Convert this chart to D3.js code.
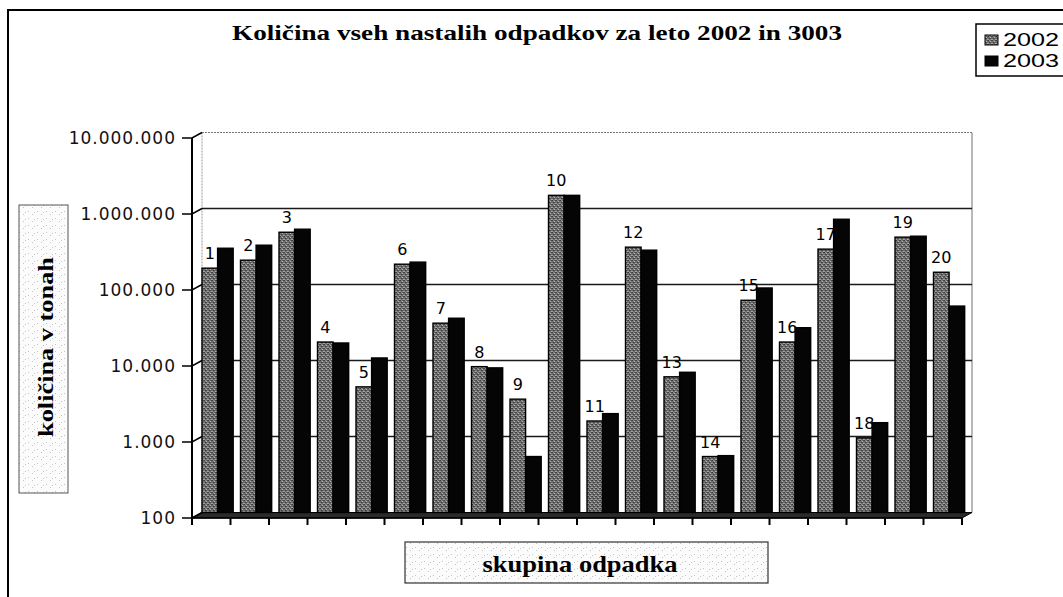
<!DOCTYPE html>
<html>
<head>
<meta charset="utf-8">
<script src="https://cdn.jsdelivr.net/npm/d3@7"></script>
<style>
  html, body { margin: 0; padding: 0; background: #fff; }
  svg { display: block; }
</style>
</head>
<body>
<svg id="chart" width="1063" height="597"></svg>
<script>
const title = "Količina vseh nastalih odpadkov za leto 2002 in 3003";
const yTitle = "količina v tonah";
const xTitle = "skupina odpadka";
const categories = ["1","2","3","4","5","6","7","8","9","10","11","12","13","14","15","16","17","18","19","20"];
const seriesNames = ["2002", "2003"];
const values2002 = [164000, 209000, 487000, 17500, 4500, 185000, 31000, 8300, 3100, 1490000, 1600, 310000, 6100, 545, 62000, 17500, 292000, 960, 420000, 145000];
const values2003 = [300000, 329000, 534000, 17000, 10800, 197000, 36000, 8000, 545, 1490000, 2000, 283000, 7000, 560, 90000, 27000, 722000, 1520, 432000, 52000];
const yTicks = [100, 1000, 10000, 100000, 1000000, 10000000];
const yTickLabels = ["100", "1.000", "10.000", "100.000", "1.000.000", "10.000.000"];

const svg = d3.select("#chart");
const defs = svg.append("defs");

// stipple pattern for 2002 bars
const pat = defs.append("pattern").attr("id", "stip").attr("width", 4).attr("height", 4)
  .attr("patternUnits", "userSpaceOnUse");
pat.append("rect").attr("width", 4).attr("height", 4).attr("fill", "#6e6e6e");
[[0,0,"#3a3a3a"],[2,1,"#b4b4b4"],[1,2,"#404040"],[3,3,"#a8a8a8"],[3,0,"#4a4a4a"],[0,3,"#9c9c9c"],[2,2,"#505050"],[1,0,"#8e8e8e"]].forEach(([px,py,c]) =>
  pat.append("rect").attr("x", px).attr("y", py).attr("width", 1).attr("height", 1).attr("fill", c));

// speckle pattern for title boxes
const sp = defs.append("pattern").attr("id", "speck").attr("width", 9).attr("height", 7)
  .attr("patternUnits", "userSpaceOnUse");
sp.append("rect").attr("width", 9).attr("height", 7).attr("fill", "#fbfbfb");
[[1,1],[5,4],[7,2]].forEach(([px,py]) =>
  sp.append("rect").attr("x", px).attr("y", py).attr("width", 1).attr("height", 1).attr("fill", "#c4c4c4"));

// outer chart border
svg.append("rect").attr("x", 8).attr("y", 10).attr("width", 1070).attr("height", 600)
  .attr("fill", "none").attr("stroke", "#000").attr("stroke-width", 2);

// geometry
const pLeft = 192, pRight = 962, pTop = 138, pBottom = 518;
const dx = 10, dy = -5.5;
const x = d3.scaleBand().domain(categories).range([pLeft, pRight]).padding(0);
const y = d3.scaleLog().domain([100, 1e7]).range([pBottom, pTop]);
const yb = v => y(v) + dy;

// back wall
const g = svg.append("g");
g.append("line").attr("x1", pLeft + dx).attr("x2", pRight + dx).attr("y1", yb(1e7)).attr("y2", yb(1e7))
  .attr("stroke", "#777").attr("stroke-width", 1).attr("stroke-dasharray", "2,1");
g.append("line").attr("x1", pRight + dx).attr("x2", pRight + dx).attr("y1", yb(1e7)).attr("y2", yb(100))
  .attr("stroke", "#888").attr("stroke-width", 1.2);
g.append("line").attr("x1", pLeft + dx).attr("x2", pLeft + dx).attr("y1", yb(1e7)).attr("y2", yb(100))
  .attr("stroke", "#999").attr("stroke-width", 1).attr("stroke-dasharray", "2,1");

// gridlines on back wall
g.selectAll("line.grid").data(yTicks.filter(v => v > 100 && v < 1e7)).join("line")
  .attr("class", "grid")
  .attr("x1", pLeft + dx).attr("x2", pRight + dx)
  .attr("y1", d => yb(d)).attr("y2", d => yb(d))
  .attr("stroke", "#1a1a1a").attr("stroke-width", 1.3);

// floor
g.append("path")
  .attr("d", `M${pLeft},${pBottom} L${pRight},${pBottom} L${pRight + dx},${pBottom + dy} L${pLeft + dx},${pBottom + dy} Z`)
  .attr("fill", "#2a2a2a").attr("stroke", "#000").attr("stroke-width", 1);

// bars
const bw = x.bandwidth() * 0.405;
const rows = categories.map((c, i) => ({ c, v: [values2002[i], values2003[i]] }));
const groups = g.selectAll("g.cat").data(rows).join("g").attr("class", "cat");
groups.selectAll("rect").data(d => d.v.map((v, j) => ({ c: d.c, v, j }))).join("rect")
  .attr("x", d => x(d.c) + dx + d.j * bw)
  .attr("y", d => yb(d.v))
  .attr("width", bw)
  .attr("height", d => yb(100) - yb(d.v))
  .attr("fill", d => d.j === 0 ? "url(#stip)" : "#050505")
  .attr("stroke", "#000").attr("stroke-width", 1.4);

// data labels (category numbers) above 2002 bars
g.selectAll("text.lab").data(rows).join("text")
  .attr("class", "lab")
  .attr("x", d => x(d.c) + dx + bw / 2)
  .attr("y", d => yb(d.v[0]) - 9)
  .attr("text-anchor", "middle")
  .attr("font-family", "DejaVu Sans, Verdana, sans-serif")
  .attr("font-size", 16)
  .attr("fill", "#000")
  .text(d => d.c);

// front y axis
const ax = svg.append("g");
ax.append("line").attr("x1", pLeft).attr("x2", pLeft).attr("y1", pTop).attr("y2", pBottom)
  .attr("stroke", "#000").attr("stroke-width", 2);
ax.selectAll("path.tick").data(yTicks).join("path")
  .attr("class", "tick")
  .attr("d", d => `M${pLeft - 10},${y(d)} L${pLeft},${y(d)} L${pLeft + dx},${yb(d)}`)
  .attr("fill", "none").attr("stroke", "#000").attr("stroke-width", 1.5);
ax.selectAll("text.yl").data(yTicks).join("text")
  .attr("class", "yl")
  .attr("x", pLeft - 16)
  .attr("y", d => y(d))
  .attr("dy", "0.36em")
  .attr("text-anchor", "end")
  .attr("font-family", "DejaVu Sans, Verdana, sans-serif")
  .attr("font-size", 17)
  .attr("letter-spacing", 1)
  .attr("fill", "#111")
  .text((d, i) => yTickLabels[i]);

// x ticks along the front floor edge
const bounds = categories.map(c => x(c)).concat([pRight]);
ax.selectAll("line.xt").data(bounds).join("line")
  .attr("class", "xt")
  .attr("x1", d => d).attr("x2", d => d).attr("y1", pBottom).attr("y2", pBottom + 7)
  .attr("stroke", "#000").attr("stroke-width", 2);
ax.append("line").attr("x1", pLeft).attr("x2", pRight).attr("y1", pBottom).attr("y2", pBottom)
  .attr("stroke", "#000").attr("stroke-width", 1.5);

// title
svg.append("text")
  .attr("x", 537).attr("y", 40)
  .attr("text-anchor", "middle")
  .attr("font-family", "Liberation Serif, Times New Roman, serif")
  .attr("font-weight", "bold")
  .attr("font-size", 22)
  .attr("textLength", 610).attr("lengthAdjust", "spacingAndGlyphs")
  .text(title);

// y title box
svg.append("rect").attr("x", 19).attr("y", 205).attr("width", 49).attr("height", 288)
  .attr("fill", "url(#speck)").attr("stroke", "#555").attr("stroke-width", 1);
svg.append("text")
  .attr("transform", "translate(53,347) rotate(-90)")
  .attr("text-anchor", "middle")
  .attr("font-family", "Liberation Serif, Times New Roman, serif")
  .attr("font-weight", "bold")
  .attr("font-size", 22)
  .attr("textLength", 180).attr("lengthAdjust", "spacingAndGlyphs")
  .text(yTitle);

// x title box
svg.append("rect").attr("x", 405).attr("y", 542).attr("width", 363).attr("height", 41)
  .attr("fill", "url(#speck)").attr("stroke", "#333").attr("stroke-width", 1.2);
svg.append("text")
  .attr("x", 580).attr("y", 572)
  .attr("text-anchor", "middle")
  .attr("font-family", "Liberation Serif, Times New Roman, serif")
  .attr("font-weight", "bold")
  .attr("font-size", 23)
  .attr("textLength", 195).attr("lengthAdjust", "spacingAndGlyphs")
  .text(xTitle);

// legend
const lg = svg.append("g");
lg.append("rect").attr("x", 976).attr("y", 24).attr("width", 100).attr("height", 52)
  .attr("fill", "#fff").attr("stroke", "#000").attr("stroke-width", 1.5);
const legY = [40, 61];
seriesNames.forEach((s, i) => {
  lg.append("rect").attr("x", 985).attr("y", legY[i] - 5).attr("width", 13).attr("height", 10)
    .attr("fill", i === 0 ? "url(#stip)" : "#050505").attr("stroke", "#000").attr("stroke-width", 1);
  lg.append("text").attr("x", 1003).attr("y", legY[i]).attr("dy", "0.36em")
    .attr("font-family", "Liberation Sans, Arial, sans-serif")
    .attr("font-size", 18)
    .attr("textLength", 56).attr("lengthAdjust", "spacingAndGlyphs")
    .text(s);
});
</script>
</body>
</html>
